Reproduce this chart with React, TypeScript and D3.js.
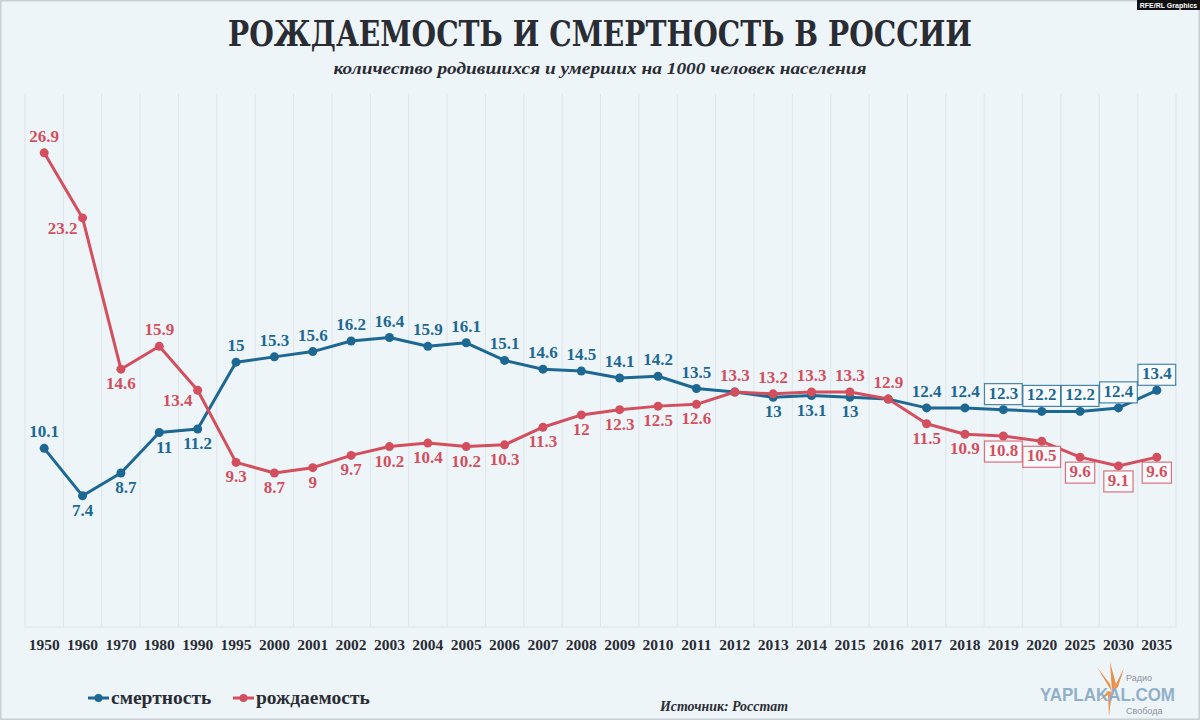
import * as d3 from "d3"

// years on the x axis
const years = [
  "1950", "1960", "1970", "1980", "1990", "1995", "2000", "2001", "2002", "2003",
  "2004", "2005", "2006", "2007", "2008", "2009", "2010", "2011", "2012", "2013",
  "2014", "2015", "2016", "2017", "2018", "2019", "2020", "2025", "2030", "2035",
]

// deaths per 1000 people
const deaths = [
  10.1, 7.4, 8.7, 11, 11.2, 15, 15.3, 15.6, 16.2, 16.4,
  15.9, 16.1, 15.1, 14.6, 14.5, 14.1, 14.2, 13.5, 13.3, 13,
  13.1, 13, 12.9, 12.4, 12.4, 12.3, 12.2, 12.2, 12.4, 13.4,
]

// births per 1000 people
const births = [
  26.9, 23.2, 14.6, 15.9, 13.4, 9.3, 8.7, 9, 9.7, 10.2,
  10.4, 10.2, 10.3, 11.3, 12, 12.3, 12.5, 12.6, 13.3, 13.2,
  13.3, 13.3, 12.9, 11.5, 10.9, 10.8, 10.5, 9.6, 9.1, 9.6,
]

// label placement: a = above, b = below, l = left-below, n = none
const deathLabelPos = [
  "a", "b", "b", "b", "b", "a", "a", "a", "a", "a",
  "a", "a", "a", "a", "a", "a", "a", "a", "n", "b",
  "b", "b", "n", "a", "a", "a", "a", "a", "a", "a",
]
const birthLabelPos = [
  "a", "l", "b", "a", "l", "b", "b", "b", "b", "b",
  "b", "b", "b", "b", "b", "b", "b", "b", "a", "a",
  "a", "a", "a", "b", "b", "b", "b", "b", "b", "b",
]

// forecast years get a boxed label
const forecastFrom = "2019"

const BLUE = "#1d6892"
const RED = "#d44f5d"
const INK = "#2a2c33"
const BG = "#eef5f9"
const SERIF = "'Liberation Serif', 'DejaVu Serif', serif"

const W = 1200
const H = 720
const LABEL_SIZE = 17

// rough width of a number label in Liberation Serif bold
function labelWidth(s: string) {
  let w = 0
  for (const ch of s) w += ch === "." ? 0.25 : 0.5
  return w * LABEL_SIZE
}

type Series = {
  name: string
  color: string
  values: number[]
  pos: string[]
}

export default function App() {
  const x = d3.scaleBand<string>().domain(years).range([25, 1176])
  const bw = x.bandwidth()
  const cx = (y: string) => (x(y) || 0) + bw / 2
  const y = d3.scaleLinear().domain([0, 30]).range([626, 98.3])

  const line = d3.line<number>()
    .x((_, i) => cx(years[i]))
    .y(d => y(d))

  const series: Series[] = [
    { name: "смертность", color: BLUE, values: deaths, pos: deathLabelPos },
    { name: "рождаемость", color: RED, values: births, pos: birthLabelPos },
  ]

  const forecastIdx = years.indexOf(forecastFrom)
  const fmt = (v: number) => String(v)

  const gridXs = years.map(yr => x(yr) || 0).concat([(x(years[years.length - 1]) || 0) + bw])

  return (
    <svg
      width={W}
      height={H}
      style={{ position: "absolute", left: 0, top: 0, display: "block" }}
      fontFamily={SERIF}
    >
      <rect x={0.5} y={0.5} width={W - 1} height={H - 1} fill={BG} stroke="#c9cfd4" strokeWidth={2} />

      {/* badge */}
      <rect x={1137} y={0} width={63} height={10} fill="#111" />
      <text x={1168.5} y={7.5} fontSize={7} fontWeight={700} fill="#fff" textAnchor="middle"
        fontFamily="'Liberation Sans Narrow', 'Liberation Sans', sans-serif">
        RFE/RL Graphics
      </text>

      {/* titles */}
      <text x={600} y={46} textAnchor="middle" fontSize={36} fontWeight={700} fill={INK}
        fontFamily="'DejaVu Serif', serif" textLength={744} lengthAdjust="spacingAndGlyphs">
        РОЖДАЕМОСТЬ И СМЕРТНОСТЬ В РОССИИ
      </text>
      <text x={600} y={74} textAnchor="middle" fontSize={16} fontWeight={700} fontStyle="italic"
        fill={INK} textLength={533} lengthAdjust="spacingAndGlyphs">
        количество родившихся и умерших на 1000 человек населения
      </text>

      {/* grid */}
      <g stroke="#dde5eb" strokeWidth={1}>
        {gridXs.map((gx, i) => (
          <line key={i} x1={gx} x2={gx} y1={94} y2={627} />
        ))}
        <line x1={gridXs[0]} x2={gridXs[gridXs.length - 1]} y1={627} y2={627} />
      </g>

      {/* year labels */}
      <g fontSize={15.5} fontWeight={700} fill={INK} textAnchor="middle">
        {years.map(yr => (
          <text key={yr} x={cx(yr)} y={650}>{yr}</text>
        ))}
      </g>

      {/* lines */}
      {series.map(s => (
        <path key={s.name} d={line(s.values) || ""} fill="none" stroke={s.color} strokeWidth={3}
          strokeLinejoin="round" />
      ))}
      {series.map(s => (
        <g key={s.name + "-dots"} fill={s.color}>
          {s.values.map((v, i) => (
            <circle key={i} cx={cx(years[i])} cy={y(v)} r={4.5} />
          ))}
        </g>
      ))}

      {/* value labels */}
      {series.map(s => (
        <g key={s.name + "-labels"} fill={s.color} fontSize={LABEL_SIZE} fontWeight={700} textAnchor="middle">
          {s.values.map((v, i) => {
            const p = s.pos[i]
            if (p === "n") return null
            const px = cx(years[i])
            const py = y(v)
            let lx = px
            let ly = p === "a" ? py - 11 : py + 20
            if (p === "l") {
              lx = px - 20
              ly = py + 16
            }
            // small nudges where the original label sits right of the point
            if (s.name === "смертность" && (years[i] === "1970" || years[i] === "1980")) lx += 5
            const txt = fmt(v)
            const boxed = i >= forecastIdx
            const tw = labelWidth(txt)
            return (
              <g key={i}>
                {boxed && (
                  <rect x={lx - tw / 2 - 4} y={ly - 15} width={tw + 8} height={21}
                    fill="#f8fbfd" stroke={s.color} strokeOpacity={0.8} strokeWidth={1.2} />
                )}
                <text x={lx} y={ly}>{txt}</text>
              </g>
            )
          })}
        </g>
      ))}

      {/* legend */}
      {series.map((s, i) => {
        const lx = i === 0 ? 88 : 233
        return (
          <g key={s.name + "-legend"}>
            <line x1={lx} x2={lx + 21} y1={698} y2={698} stroke={s.color} strokeWidth={3} />
            <circle cx={lx + 10.5} cy={698} r={4} fill={s.color} />
            <text x={lx + 23} y={704} fontSize={19.5} fontWeight={700} fill={INK}>{s.name}</text>
          </g>
        )
      })}

      {/* source */}
      <text x={660} y={711} fontSize={15} fontWeight={700} fontStyle="italic" fill={INK}
        textLength={128} lengthAdjust="spacingAndGlyphs">
        Источник: Росстат
      </text>

      {/* logo + watermark */}
      <g fill="#e8873a" opacity={0.9}>
        <path d="M1112,692 L1097,667 L1110,684 Z" />
        <path d="M1112,692 L1110,662 L1116,684 Z" />
        <path d="M1112,692 L1124,668 L1118,687 Z" />
        <path d="M1112,692 L1122,700 L1114,694 Z" />
        <path d="M1112,692 L1109,716 L1108,695 Z" />
        <path d="M1112,692 L1099,701 L1108,691 Z" />
      </g>
      <text x={1126} y={681} fontSize={9} fill="#8a9299" fontFamily="'Liberation Sans', sans-serif">Радио</text>
      <text x={1126} y={714} fontSize={9} fill="#8a9299" fontFamily="'Liberation Sans', sans-serif">Свобода</text>
      <text x={1040} y={701} fontSize={19} fontWeight={700} fill="#87a9c3" opacity={0.9}
        fontFamily="'Liberation Sans', sans-serif" textLength={135} lengthAdjust="spacingAndGlyphs">
        YAPLAKAL.COM
      </text>
    </svg>
  )
}
